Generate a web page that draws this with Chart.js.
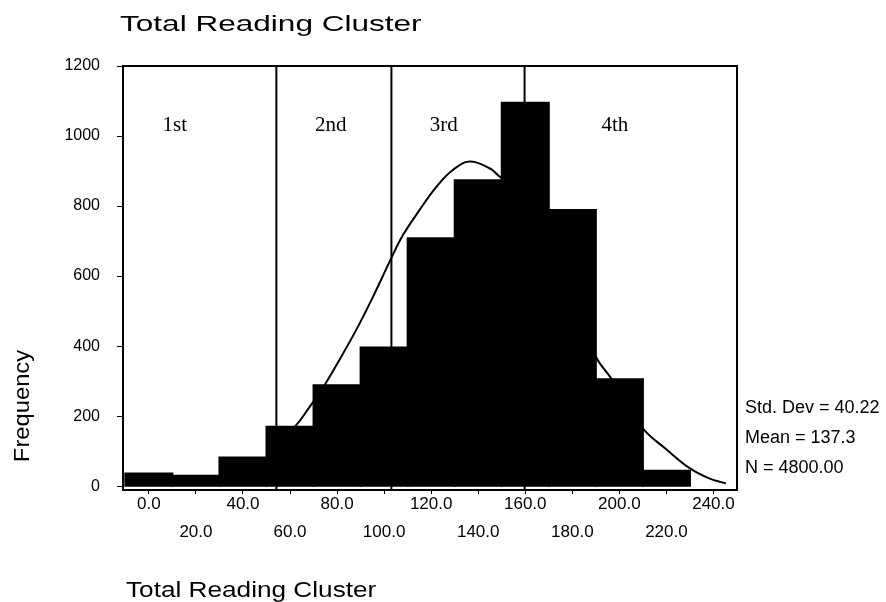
<!DOCTYPE html>
<html><head><meta charset="utf-8">
<script src="https://cdn.jsdelivr.net/npm/chart.js@4.4.1/dist/chart.umd.min.js"></script>
<style>html,body{margin:0;padding:0;background:#fff;}canvas{display:block;}</style>
</head><body>
<canvas id="c" width="886" height="602"></canvas>
<script>
const chartTitle = 'Total Reading Cluster';
const xAxisTitle = 'Total Reading Cluster';
const yAxisTitle = 'Frequency';
const binCenters = [0, 20, 40, 60, 80, 100, 120, 140, 160, 180, 200, 220];
const frequencies = [36, 30, 82, 170, 288, 396, 708, 874, 1095, 789, 305, 44];
const curveX = [55, 62, 68.4, 74.7, 81.1, 88.2, 95.2, 103.1, 108, 115.1, 122.2, 129.2, 136.3, 144.8, 148.3, 160, 170, 180, 190.1, 196.5, 203, 210.6, 219.8, 229.7, 238.2, 245.3];
const curveY = [125, 169, 227, 289, 362, 447, 540, 652, 717, 789, 855, 903, 927, 908, 889, 820, 700, 540, 369, 308, 235, 160, 106, 52, 22, 8];
const quartileCuts = [54.2, 103.1, 159.7];
const quartileLabels = ['1st', '2nd', '3rd', '4th'];
const quartileLabelX = [11, 77.3, 125.3, 198.1];
const quartileLabelY = 1014;
const xTickValues = [0, 20, 40, 60, 80, 100, 120, 140, 160, 180, 200, 220, 240];
const yTickValues = [0, 200, 400, 600, 800, 1000, 1200];
const statsLines = ['Std. Dev = 40.22', 'Mean = 137.3', 'N = 4800.00'];

const datasets = [
  {
    type: 'line',
    data: curveX.map((x, i) => ({ x, y: curveY[i] })),
    borderColor: '#000', borderWidth: 2, pointRadius: 0, tension: 0.4, fill: false
  },
  ...quartileCuts.map(q => ({
    type: 'line',
    data: [{ x: q, y: -11 }, { x: q, y: 1200 }],
    borderColor: '#000', borderWidth: 2, pointRadius: 0, fill: false
  })),
  {
    type: 'bar',
    data: binCenters.map((x, i) => ({ x, y: frequencies[i] })),
    backgroundColor: '#000', borderWidth: 0, inflateAmount: 1,
    barPercentage: 1, categoryPercentage: 1
  }
];

const decor = {
  id: 'decor',
  afterDraw(chart) {
    const { ctx, chartArea: a, scales: { x, y } } = chart;
    ctx.save();
    ctx.strokeStyle = '#000';
    ctx.lineWidth = 2;
    ctx.beginPath();
    ctx.moveTo(a.left, a.top);
    ctx.lineTo(a.right, a.top);
    ctx.lineTo(a.right, a.bottom);
    ctx.stroke();

    ctx.fillStyle = '#000';
    ctx.font = '21px "Liberation Serif"';
    ctx.textAlign = 'center';
    ctx.textBaseline = 'alphabetic';
    quartileLabels.forEach((t, i) => {
      ctx.fillText(t, x.getPixelForValue(quartileLabelX[i]), y.getPixelForValue(quartileLabelY));
    });

    ctx.font = '18px "Liberation Sans"';
    ctx.textAlign = 'left';
    ctx.textBaseline = 'middle';
    statsLines.forEach((t, i) => ctx.fillText(t, a.right + 8, 408 + i * 30));

    ctx.textBaseline = 'alphabetic';
    ctx.font = '22px "Liberation Sans"';
    ctx.save();
    ctx.translate(120, 31);
    ctx.scale(1.434, 1);
    ctx.fillText(chartTitle, 0, 0);
    ctx.restore();

    ctx.save();
    ctx.translate(126, 597);
    ctx.scale(1.19, 1);
    ctx.fillText(xAxisTitle, 0, 0);
    ctx.restore();

    ctx.save();
    ctx.translate(29, 406);
    ctx.rotate(-Math.PI / 2);
    ctx.scale(1.08, 1);
    ctx.textAlign = 'center';
    ctx.fillText(yAxisTitle, 0, 0);
    ctx.restore();
    ctx.restore();
  }
};

new Chart(document.getElementById('c'), {
  type: 'bar',
  data: { datasets },
  options: {
    responsive: false,
    animation: false,
    devicePixelRatio: 1,
    layout: { padding: { top: 66, right: 149, left: 0, bottom: 0 } },
    plugins: { legend: { display: false }, tooltip: { enabled: false }, title: { display: false } },
    scales: {
      x: {
        type: 'linear', min: -11, max: 250, offset: false,
        afterBuildTicks: s => { s.ticks = xTickValues.map(v => ({ value: v })); },
        afterFit: s => { s.height = 112; },
        grid: { drawOnChartArea: false, drawTicks: true, tickLength: 4, color: '#000', offset: false },
        border: { display: true, color: '#000', width: 2 },
        ticks: {
          color: '#000', font: { family: 'Liberation Sans', size: 17, lineHeight: 1.65 },
          padding: -4, maxRotation: 0, minRotation: 0, autoSkip: false,
          callback: (v, i) => (i % 2 === 0 ? Number(v).toFixed(1) : ['', Number(v).toFixed(1)])
        }
      },
      y: {
        type: 'linear', min: -11, max: 1200,
        afterBuildTicks: s => { s.ticks = yTickValues.map(v => ({ value: v })); },
        afterFit: s => { s.width = 123; },
        grid: { drawOnChartArea: false, drawTicks: true, tickLength: 6, color: '#000' },
        border: { display: true, color: '#000', width: 2 },
        ticks: { color: '#000', font: { family: 'Liberation Sans', size: 16 }, padding: 17, callback: v => String(v) }
      }
    }
  },
  plugins: [decor]
});
</script>
</body></html>
